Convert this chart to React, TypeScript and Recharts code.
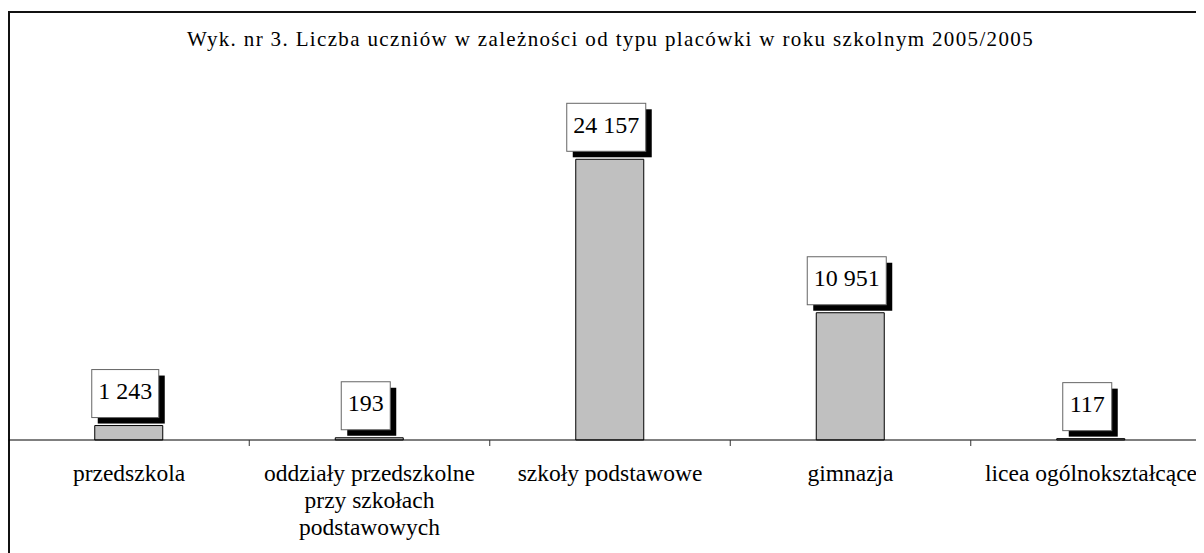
import React from 'react';
import { BarChart, Bar, XAxis, YAxis, LabelList } from 'recharts';

const title = 'Wyk. nr 3. Liczba uczniów w zależności od typu placówki w roku szkolnym 2005/2005';

const categories = [
  'przedszkola',
  'oddziały przedszkolne przy szkołach podstawowych',
  'szkoły podstawowe',
  'gimnazja',
  'licea ogólnokształcące',
];

const categoryLabelLines = [
  ['przedszkola'],
  ['oddziały przedszkolne', 'przy szkołach', 'podstawowych'],
  ['szkoły podstawowe'],
  ['gimnazja'],
  ['licea ogólnokształcące'],
];

const values = [1243, 193, 24157, 10951, 117];

const yDomain = [0, 30000];

const data = categories.map((c, i) => ({ name: c, value: values[i] }));

const FONT = '"Liberation Serif", "Times New Roman", Times, serif';
const CHART_W = 1240;
const CHART_H = 545;
const MARGIN = { top: 83.4, right: 36.75, bottom: 53, left: 0.75 };
const BAND = (CHART_W - MARGIN.left - MARGIN.right) / categories.length;

const formatValue = (v: number) =>
  String(v).replace(/\B(?=(\d{3})+(?!\d))/g, ' ');

function CategoryTick(props: any) {
  const { x, y, payload } = props;
  const idx = payload && typeof payload.index === 'number' ? payload.index : props.index;
  const lines = categoryLabelLines[idx] || [String(payload.value)];
  return (
    <g>
      {idx > 0 && (
        <line x1={x - BAND / 2} x2={x - BAND / 2} y1={y} y2={y + 6} stroke="#333" strokeWidth={1} />
      )}
      <text x={x} y={y + 41} textAnchor="middle" fontFamily={FONT} fontSize={23.5} fill="#000">
        {lines.map((l: string, i: number) => (
          <tspan key={i} x={x} dy={i === 0 ? 0 : 27}>
            {l}
          </tspan>
        ))}
      </text>
    </g>
  );
}

function ValueLabel(props: any) {
  const vb = props.viewBox || {};
  const x = props.x ?? vb.x;
  const y = props.y ?? vb.y;
  const width = props.width ?? vb.width;
  const value = props.value;
  const fs = 24;
  const text = formatValue(Number(value));
  const tw = text.split('').reduce((s, ch) => s + (ch === ' ' ? 0.25 : 0.5), 0) * fs;
  const bw = tw + 13;
  const bh = 48;
  const cx = x + width / 2 - 3.5;
  const bottom = y - 8;
  const left = cx - bw / 2;
  const top = bottom - bh;
  return (
    <g>
      <rect x={left + 6} y={top + 6} width={bw} height={bh} fill="#000" />
      <rect x={left} y={top} width={bw} height={bh} fill="#fff" stroke="#666" strokeWidth={1} />
      <text x={cx} y={bottom - 18.5} textAnchor="middle" fontFamily={FONT} fontSize={fs} fill="#000">
        {text}
      </text>
    </g>
  );
}

export default function App() {
  return (
    <div style={{ width: 1196, height: 545, overflow: 'hidden', position: 'relative', background: '#fff' }}>
      <div
        style={{
          position: 'absolute',
          left: 0,
          top: 3,
          width: 1400,
          height: 800,
          border: '2px solid #111',
          boxSizing: 'border-box',
        }}
      />
      <svg
        width={1196}
        height={70}
        style={{ position: 'absolute', left: 0, top: 0 }}
      >
        <text
          x={602.5}
          y={38}
          textAnchor="middle"
          fontFamily={FONT}
          fontSize={21}
          letterSpacing={1.35}
          fill="#000"
        >
          {title}
        </text>
      </svg>
      <div style={{ position: 'absolute', left: 0, top: 0 }}>
        <BarChart width={CHART_W} height={CHART_H} data={data} margin={MARGIN}>
          <XAxis
            dataKey="name"
            interval={0}
            height={60}
            tickLine={false}
            tickSize={0}
            tickMargin={0}
            axisLine={{ stroke: '#000', strokeWidth: 1 }}
            tick={<CategoryTick />}
          />
          <YAxis hide width={0} domain={yDomain} />
          <Bar dataKey="value" barSize={68} fill="#c0c0c0" stroke="#000" strokeWidth={1} isAnimationActive={false}>
            <LabelList dataKey="value" content={<ValueLabel />} />
          </Bar>
        </BarChart>
      </div>
    </div>
  );
}
